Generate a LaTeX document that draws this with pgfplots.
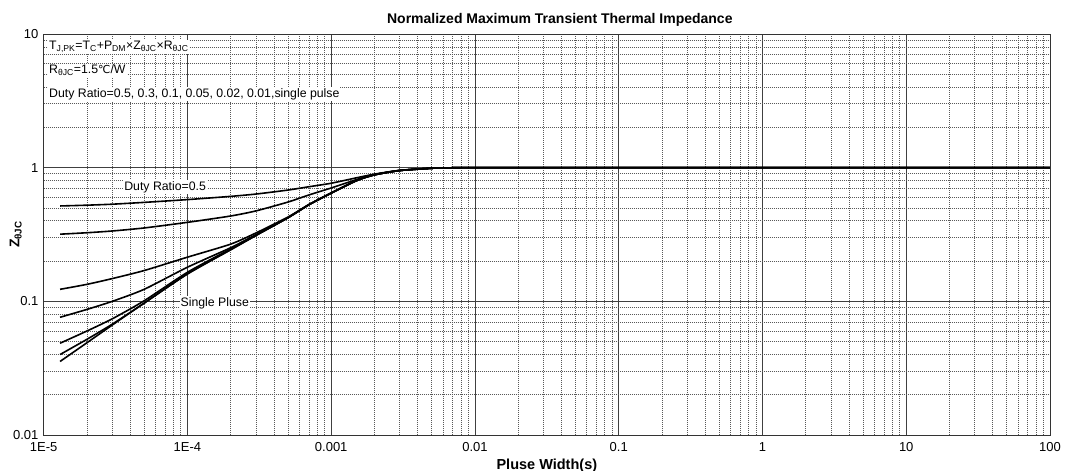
\documentclass[border=0pt]{standalone}
\usepackage{pgfplots}
\usepackage{pgfplotstable}
\pgfplotsset{compat=1.18}
\usepackage{fontspec}
\setmainfont{Liberation Sans}
\newfontfamily\symfont{DejaVu Sans}

% Normalized transient thermal impedance Z(t) for each duty ratio
\pgfplotstableread{
t       d50    d30    d10    d05    d02    d01    single
1.3e-5  0.517  0.318  0.123  0.076  0.0486 0.040  0.0355
2e-5    0.524  0.326  0.134  0.087  0.060  0.052  0.049
3e-5    0.533  0.336  0.148  0.100  0.074  0.0675 0.0665
5e-5    0.550  0.354  0.170  0.123  0.101  0.097  0.097
1e-4    0.577  0.390  0.214  0.180  0.165  0.161  0.160
2e-4    0.610  0.435  0.268  0.252  0.247  0.244  0.243
3e-4    0.635  0.475  0.325  0.316  0.313  0.312  0.311
5e-4    0.680  0.553  0.427  0.423  0.422  0.422  0.422
7e-4    0.720  0.625  0.530  0.529  0.528  0.528  0.528
1e-3    0.765  0.705  0.648  0.646  0.645  0.645  0.645
1.5e-3  0.840  0.815  0.802  0.800  0.800  0.800  0.800
2e-3    0.895  0.888  0.885  0.884  0.884  0.884  0.884
3e-3    0.955  0.953  0.952  0.952  0.952  0.952  0.952
5e-3    0.990  0.990  0.990  0.990  0.990  0.990  0.990
7e-3    0.998  0.998  0.998  0.998  0.998  0.998  0.998
1e-2    1.0    1.0    1.0    1.0    1.0    1.0    1.0
0.1     1.0    1.0    1.0    1.0    1.0    1.0    1.0
1       1.0    1.0    1.0    1.0    1.0    1.0    1.0
10      1.0    1.0    1.0    1.0    1.0    1.0    1.0
100     1.0    1.0    1.0    1.0    1.0    1.0    1.0
}\zthjc

\begin{document}
\fontsize{12.3pt}{14pt}\selectfont
\begin{tikzpicture}
\path[use as bounding box] (-43.7pt,-36pt) rectangle (1033.3pt,435pt);
\begin{axis}[
  xmode=log, ymode=log,
  scale only axis, width=1006.3pt, height=401pt,
  xmin=1e-5, xmax=100, ymin=0.01, ymax=10,
  xtick={1e-5,1e-4,1e-3,1e-2,1e-1,1,10,100},
  xticklabels={1E-5,1E-4,0.001,0.01,0.1,1,10,100},
  ytick={0.01,0.1,1,10},
  yticklabels={0.01,0.1,1,10},
  grid=both,
  major grid style={draw=black!75, line width=0.9pt},
  minor grid style={draw=black!65, line width=0.8pt, dash pattern=on 1pt off 1pt},
  major tick length=0pt, minor tick length=0pt,
  axis line style={draw=black!80, line width=0.9pt},
  tick label style={font=\fontsize{13pt}{15pt}\selectfont},
  xticklabel style={yshift=-3pt},
  yticklabel style={xshift=-1pt},
  title={Normalized Maximum Transient Thermal Impedance},
  title style={font=\bfseries\fontsize{14pt}{16pt}\selectfont,
    at={(axis description cs:0.5,1)}, anchor=base, yshift=5pt, xshift=13pt},
  xlabel={Pluse Width(s)},
  xlabel style={font=\bfseries\fontsize{14.5pt}{16pt}\selectfont,
    at={(axis description cs:0.5,0)}, anchor=base, yshift=-34pt},
  ylabel={Z\textsubscript{θJC}},
  ylabel style={font=\bfseries\fontsize{14pt}{16pt}\selectfont,
    at={(axis description cs:-0.0278,0.5)}, anchor=center},
  every axis plot/.append style={black, line width=1.6pt, line join=round},
]
\addplot[smooth, tension=0.4] table[x=t, y=d50] {\zthjc};
\addplot[smooth, tension=0.4] table[x=t, y=d30] {\zthjc};
\addplot[smooth, tension=0.4] table[x=t, y=d10] {\zthjc};
\addplot[smooth, tension=0.4] table[x=t, y=d05] {\zthjc};
\addplot[smooth, tension=0.4] table[x=t, y=d02] {\zthjc};
\addplot[smooth, tension=0.4] table[x=t, y=d01] {\zthjc};
\addplot[smooth, tension=0.4] table[x=t, y=single] {\zthjc};

% formula and notes in the upper left corner
\node[anchor=west, fill=white, inner sep=1pt, font=\fontsize{12.3pt}{14pt}\selectfont]
  at (axis description cs:0.0043,0.968)
  {T\textsubscript{J,PK}=T\textsubscript{C}+P\textsubscript{DM}×Z\textsubscript{θJC}×R\textsubscript{θJC}};
\node[anchor=west, fill=white, inner sep=1pt, font=\fontsize{12.3pt}{14pt}\selectfont]
  at (axis description cs:0.0043,0.910)
  {R\textsubscript{θJC}=1.5{\symfont\fontsize{11pt}{13pt}\selectfont ℃}/W};
\node[anchor=west, fill=white, inner sep=1pt, font=\fontsize{12.3pt}{14pt}\selectfont]
  at (axis description cs:0.0043,0.850)
  {Duty Ratio=0.5, 0.3, 0.1, 0.05, 0.02, 0.01,single pulse};

% curve labels
\node[fill=white, inner sep=1pt, font=\fontsize{12.3pt}{14pt}\selectfont]
  at (axis cs:7.0e-5,0.718) {Duty Ratio=0.5};
\node[fill=white, inner sep=1pt, font=\fontsize{12.3pt}{14pt}\selectfont]
  at (axis cs:1.55e-4,0.097) {Single Pluse};
\end{axis}
\end{tikzpicture}
\end{document}
